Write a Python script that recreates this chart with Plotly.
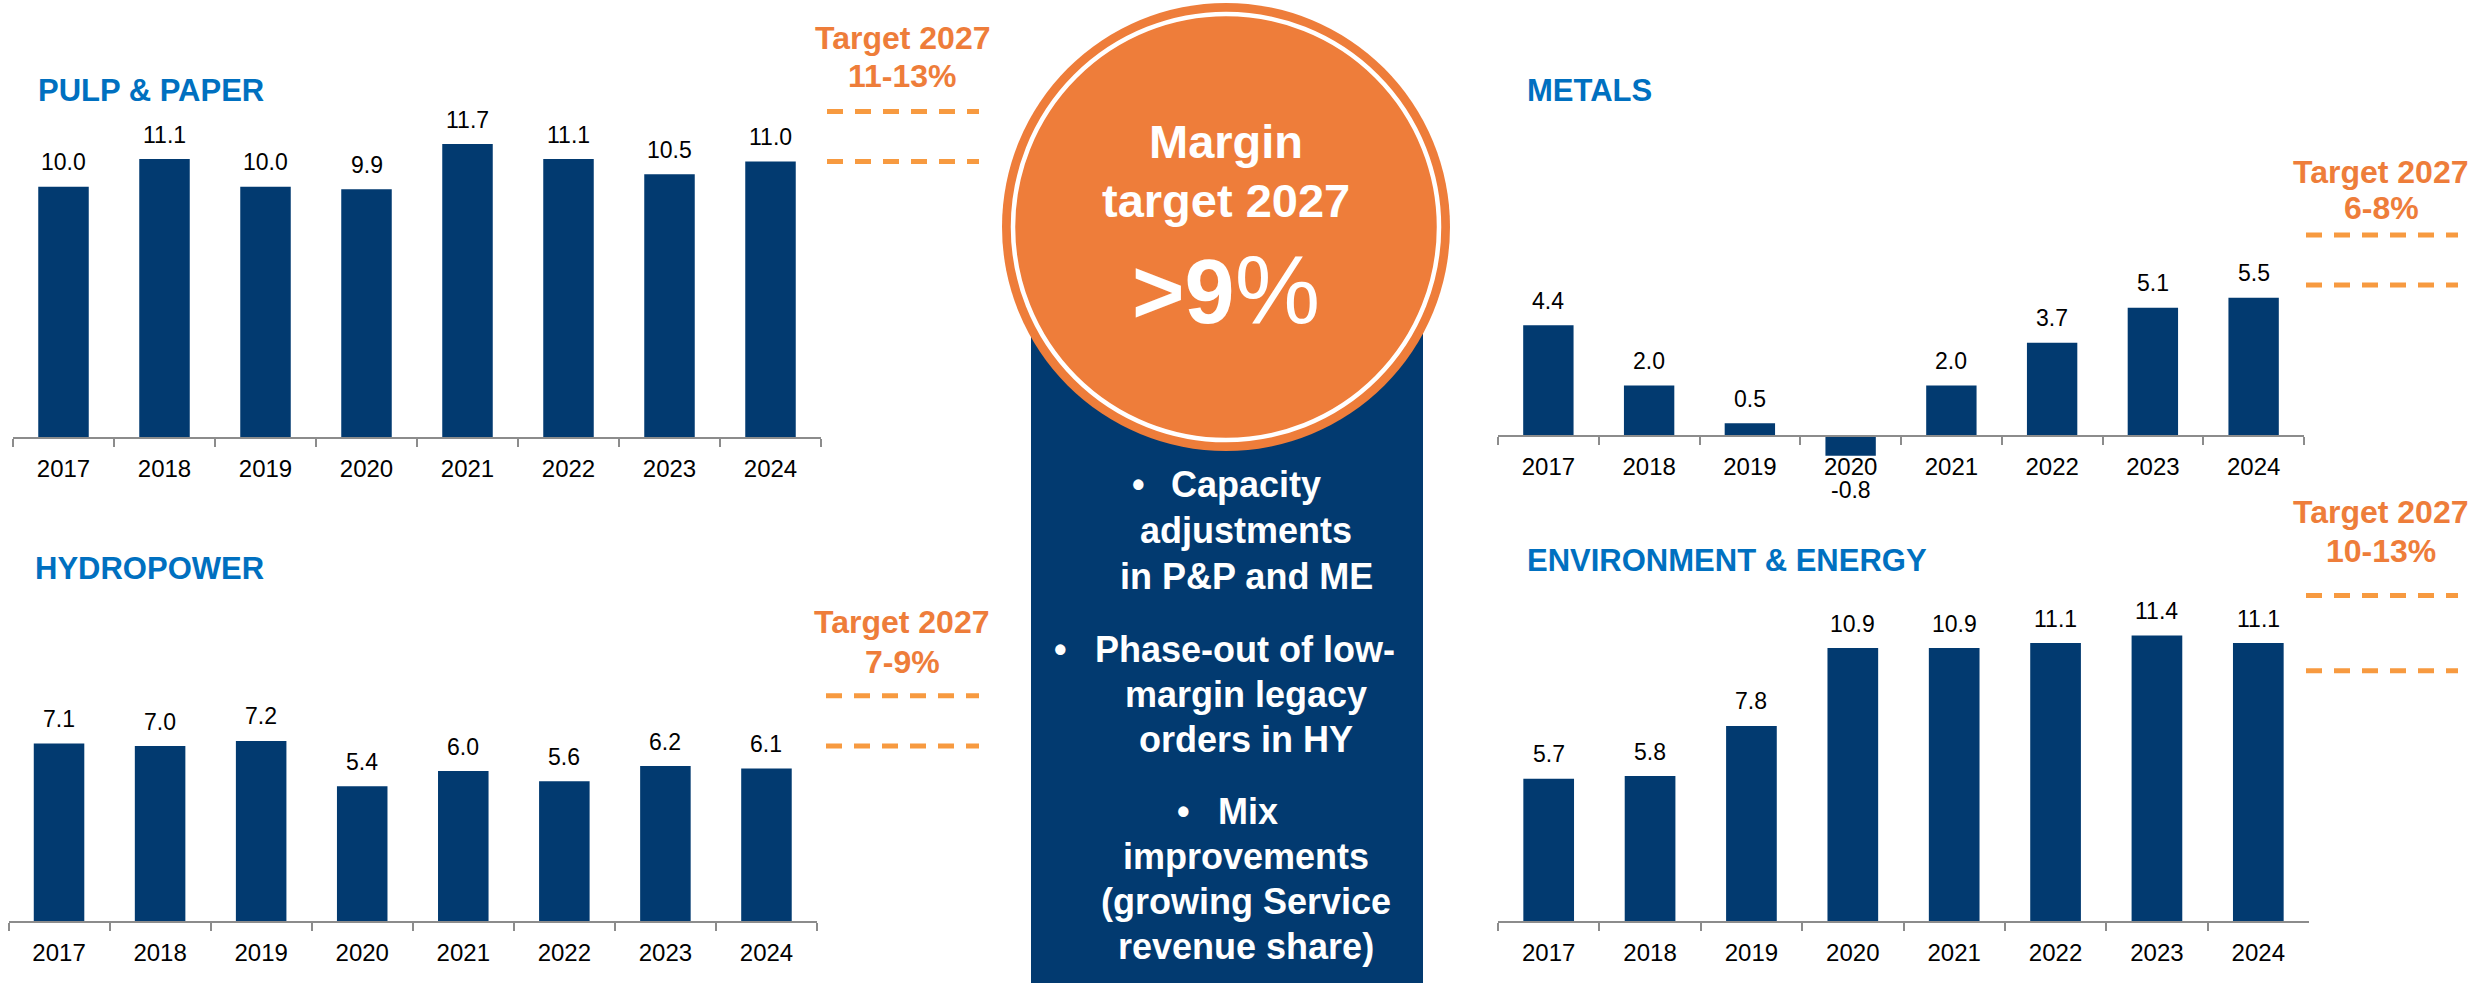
import plotly.graph_objects as go

# ---- data -------------------------------------------------------------
years = ["2017", "2018", "2019", "2020", "2021", "2022", "2023", "2024"]

pulp_paper = [10.0, 11.1, 10.0, 9.9, 11.7, 11.1, 10.5, 11.0]
hydropower = [7.1, 7.0, 7.2, 5.4, 6.0, 5.6, 6.2, 6.1]
metals = [4.4, 2.0, 0.5, -0.8, 2.0, 3.7, 5.1, 5.5]
env_energy = [5.7, 5.8, 7.8, 10.9, 10.9, 11.1, 11.4, 11.1]

segment_names = ["PULP &amp; PAPER", "HYDROPOWER", "METALS", "ENVIRONMENT &amp; ENERGY"]
target_low = [11, 7, 6, 10]
target_high = [13, 9, 8, 13]
target_labels = ["11-13%", "7-9%", "6-8%", "10-13%"]

group_target_title = ["Margin", "target 2027"]
group_target_value = "&gt;9"
bullets = [
    ["Capacity", "adjustments", "in P&amp;P and ME"],
    ["Phase-out of low-", "margin legacy", "orders in HY"],
    ["Mix", "improvements", "(growing Service", "revenue share)"],
]

# ---- styling ----------------------------------------------------------
W, H = 2478, 983
FONT = "Liberation Sans, Arial, sans-serif"
NAVY = "#023A70"
TITLE_BLUE = "#0070C0"
ORANGE = "#EE7D3A"
DASH_ORANGE = "#F79A40"
AXIS_GREY = "#8C8C8C"
PX_PER_UNIT = 25.1


def px_x(x):
    return x / W


def px_y(y):
    return 1 - y / H


# panel geometry in pixels: axis left/right, baseline, plot top/bottom,
# title position, target block position
panels = [
    dict(x0=13, x1=821, base=437.7, top=15, bottom=480,
         title=(36, 91), tx=903, ty=(38, 76), dash=(827, 979)),
    dict(x0=8.5, x1=817, base=921.7, top=500, bottom=975,
         title=(33, 568), tx=902, ty=(622, 662), dash=(826, 979)),
    dict(x0=1498, x1=2304, base=435.7, top=15, bottom=480,
         title=(1525, 91), tx=2381, ty=(172, 208), dash=(2306, 2458)),
    dict(x0=1498, x1=2309, base=921.7, top=500, bottom=975,
         title=(1525, 560), tx=2381, ty=(512, 551), dash=(2306, 2458)),
]
series = [pulp_paper, hydropower, metals, env_energy]

fig = go.Figure()
annotations = []
shapes = []
layout_axes = {}

for i, (p, vals) in enumerate(zip(panels, series)):
    n = i + 1
    xa = "x" if n == 1 else f"x{n}"
    ya = "y" if n == 1 else f"y{n}"
    xkey = "xaxis" if n == 1 else f"xaxis{n}"
    ykey = "yaxis" if n == 1 else f"yaxis{n}"

    fig.add_trace(go.Bar(
        x=years, y=vals, xaxis=xa, yaxis=ya,
        marker=dict(color=NAVY, line=dict(width=0)),
        hoverinfo="skip", showlegend=False,
    ))

    ymax = (p["base"] - p["top"]) / PX_PER_UNIT
    ymin = -(p["bottom"] - p["base"]) / PX_PER_UNIT

    layout_axes[xkey] = dict(
        domain=[px_x(p["x0"]), px_x(p["x1"])],
        range=[-0.5, len(years) - 0.5],
        type="category",
        anchor="free", position=px_y(p["base"]),
        showline=True, linecolor=AXIS_GREY, linewidth=2,
        ticks="outside", tickson="boundaries", ticklen=8,
        tickcolor=AXIS_GREY, tickwidth=1.5,
        tickfont=dict(family=FONT, size=24, color="#000000"),
        ticklabelstandoff=9,
        showgrid=False, zeroline=False, fixedrange=True,
    )
    layout_axes[ykey] = dict(
        domain=[px_y(p["bottom"]), px_y(p["top"])],
        range=[ymin, ymax], anchor=xa, visible=False,
        showgrid=False, zeroline=False, fixedrange=True,
    )

    # value labels above (or below) each bar; category index positions
    for k, v in enumerate(vals):
        annotations.append(dict(
            x=k, y=v, xref=xa, yref=ya, text=f"{v:.1f}",
            showarrow=False, xanchor="center", yanchor="middle",
            yshift=24.5 if v >= 0 else -34,
            font=dict(family=FONT, size=23, color="#000000"),
        ))

    # segment title
    annotations.append(dict(
        x=px_x(p["title"][0]), y=px_y(p["title"][1]), xref="paper", yref="paper",
        text=f"<b>{segment_names[i]}</b>", showarrow=False,
        xanchor="left", yanchor="middle",
        font=dict(family=FONT, size=31, color=TITLE_BLUE),
    ))

    # 2027 target range label
    for line, yy in zip(["Target 2027", target_labels[i]], p["ty"]):
        annotations.append(dict(
            x=px_x(p["tx"]), y=px_y(yy), xref="paper", yref="paper",
            text=f"<b>{line}</b>", showarrow=False,
            xanchor="center", yanchor="middle",
            font=dict(family=FONT, size=32, color=ORANGE),
        ))

    # dashed lines marking the target range
    for tv in (target_low[i], target_high[i]):
        shapes.append(dict(
            type="line", xref="paper", yref=ya,
            x0=px_x(p["dash"][0]), x1=px_x(p["dash"][1]), y0=tv, y1=tv,
            line=dict(color=DASH_ORANGE, width=5, dash="16px,12px"),
        ))

# ---- centre badge -------------------------------------------------------
cx, cy, r_outer, r_ring = 1226, 227, 224, 213
shapes.append(dict(
    type="rect", xref="paper", yref="paper",
    x0=px_x(1031), x1=px_x(1423), y0=px_y(H), y1=px_y(cy),
    fillcolor=NAVY, line=dict(width=0),
))
shapes.append(dict(
    type="circle", xref="paper", yref="paper",
    x0=px_x(cx - r_outer), x1=px_x(cx + r_outer),
    y0=px_y(cy + r_outer), y1=px_y(cy - r_outer),
    fillcolor=ORANGE, line=dict(width=0),
))
shapes.append(dict(
    type="circle", xref="paper", yref="paper",
    x0=px_x(cx - r_ring), x1=px_x(cx + r_ring),
    y0=px_y(cy + r_ring), y1=px_y(cy - r_ring),
    fillcolor="rgba(0,0,0,0)", line=dict(color="white", width=4.5),
))

for line, yy in zip(group_target_title, (142, 200)):
    annotations.append(dict(
        x=px_x(cx), y=px_y(yy), xref="paper", yref="paper",
        text=f"<b>{line}</b>", showarrow=False,
        xanchor="center", yanchor="middle",
        font=dict(family=FONT, size=47, color="white"),
    ))
annotations.append(dict(
    x=px_x(cx), y=px_y(289), xref="paper", yref="paper",
    text=f"<span style='font-size:90px'><b>{group_target_value}</b></span>%",
    showarrow=False, xanchor="center", yanchor="middle",
    font=dict(family=FONT, size=96, color="white"),
))

# bullet list inside the navy column
bullet_rows = [
    [484, 530, 576],
    [649, 694, 739],
    [811, 856, 901, 946],
]
bullet_x = [1138, 1060, 1183]
first_text_x = [1169, 1093, 1216]
for para, rows, bx, fx in zip(bullets, bullet_rows, bullet_x, first_text_x):
    for j, (line, yy) in enumerate(zip(para, rows)):
        if j == 0:
            annotations.append(dict(
                x=px_x(bx), y=px_y(yy), xref="paper", yref="paper",
                text="<b>•</b>", showarrow=False,
                xanchor="center", yanchor="middle",
                font=dict(family=FONT, size=36, color="white"),
            ))
            annotations.append(dict(
                x=px_x(fx), y=px_y(yy), xref="paper", yref="paper",
                text=f"<b>{line}</b>", showarrow=False,
                xanchor="left", yanchor="middle",
                font=dict(family=FONT, size=36, color="white"),
            ))
        else:
            annotations.append(dict(
                x=px_x(1246), y=px_y(yy), xref="paper", yref="paper",
                text=f"<b>{line}</b>", showarrow=False,
                xanchor="center", yanchor="middle",
                font=dict(family=FONT, size=36, color="white"),
            ))

fig.update_layout(
    width=W, height=H,
    margin=dict(l=0, r=0, t=0, b=0),
    paper_bgcolor="white", plot_bgcolor="rgba(0,0,0,0)",
    bargap=0.5, showlegend=False,
    annotations=annotations, shapes=shapes,
    **layout_axes,
)

fig.write_html("out.html", config={"displayModeBar": False})
